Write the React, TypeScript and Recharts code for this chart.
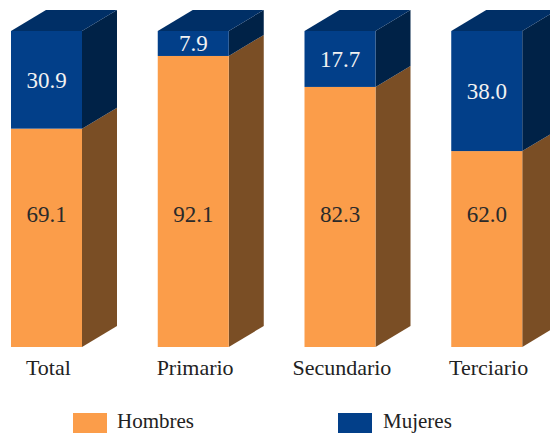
import React from 'react';
import { BarChart, Bar, XAxis, YAxis, LabelList, Legend } from 'recharts';

const categories = ['Total', 'Primario', 'Secundario', 'Terciario'];
const hombres = [69.1, 92.1, 82.3, 62.0];
const mujeres = [30.9, 7.9, 17.7, 38.0];
const seriesNames = ['Hombres', 'Mujeres'];

const data = categories.map((c, i) => ({ category: c, hombres: hombres[i], mujeres: mujeres[i] }));

const FONT = "'Liberation Serif'";
const DX = 35;
const DY = 21;

const COLORS = {
  hombres: { front: '#FB9D4A', side: '#7A4E25', top: '#C97A35' },
  mujeres: { front: '#023F89', side: '#002247', top: '#002F66' },
};

const serifRef = (el: SVGTextElement | null) => {
  if (el) el.style.setProperty('font-family', FONT, 'important');
};

const SText = (props: any) => <text ref={serifRef} fontFamily={FONT} {...props} />;

const makeShape = (c: { front: string; side: string; top: string }, drawTop: boolean) => (p: any) => {
  const { x, y, width: w, height: h } = p;
  if (w == null || h == null) return null;
  return (
    <g>
      <polygon
        points={`${x + w},${y} ${x + w + DX},${y - DY} ${x + w + DX},${y + h - DY} ${x + w},${y + h}`}
        fill={c.side}
      />
      {drawTop && (
        <polygon points={`${x},${y} ${x + DX},${y - DY} ${x + w + DX},${y - DY} ${x + w},${y}`} fill={c.top} />
      )}
      <rect x={x} y={y} width={w} height={h} fill={c.front} />
    </g>
  );
};

const vbOf = (p: any) => (p.viewBox && p.viewBox.width != null ? p.viewBox : p);

const HombresLabel = (p: any) => {
  const vb = vbOf(p);
  const cx = vb.x + vb.width / 2;
  const cy = vb.y + vb.height - 133.5;
  return (
    <SText x={cx} y={cy + 8} textAnchor="middle" fill="#2a2a2a" fontSize={23}>
      {Number(p.value).toFixed(1)}
    </SText>
  );
};

const MujeresLabel = (p: any) => {
  const vb = vbOf(p);
  const cx = vb.x + vb.width / 2;
  const cy = vb.y + vb.height / 2;
  return (
    <SText x={cx} y={cy + 8} textAnchor="middle" fill="#F2F2F2" fontSize={23}>
      {Number(p.value).toFixed(1)}
    </SText>
  );
};

const Tick = (p: any) => (
  <SText x={p.x + 2} y={p.y + 20} textAnchor="middle" fill="#222" fontSize={22}>
    {p.payload.value}
  </SText>
);

const LegendContent = () => (
  <svg width={550} height={23} style={{ display: 'block' }}>
    <rect x={73} y={3} width={34} height={20} fill={COLORS.hombres.front} />
    <SText x={117} y={18} fill="#222" fontSize={21}>{seriesNames[0]}</SText>
    <rect x={338} y={3} width={34} height={20} fill={COLORS.mujeres.front} />
    <SText x={383} y={18} fill="#222" fontSize={21}>{seriesNames[1]}</SText>
  </svg>
);

export default function App() {
  return (
    <div style={{ position: 'fixed', left: 0, top: 0, width: 550, height: 433, background: '#fff', overflow: 'hidden' }}>
      <BarChart
        width={550}
        height={433}
        data={data}
        margin={{ top: 31, right: -10, left: -27, bottom: 46 }}
        style={{ overflow: 'visible' }}
      >
        <XAxis dataKey="category" axisLine={false} tickLine={false} height={40} tick={<Tick />} interval={0} />
        <YAxis hide domain={[0, 100]} />
        <Legend
          verticalAlign="middle"
          align="center"
          layout="horizontal"
          wrapperStyle={{ left: 0, top: 410, width: 550 }}
          content={<LegendContent />}
        />
        <Bar dataKey="hombres" stackId="a" barSize={71} isAnimationActive={false} shape={makeShape(COLORS.hombres, false)}>
          <LabelList dataKey="hombres" content={<HombresLabel />} />
        </Bar>
        <Bar dataKey="mujeres" stackId="a" barSize={71} isAnimationActive={false} shape={makeShape(COLORS.mujeres, true)}>
          <LabelList dataKey="mujeres" content={<MujeresLabel />} />
        </Bar>
      </BarChart>
    </div>
  );
}
